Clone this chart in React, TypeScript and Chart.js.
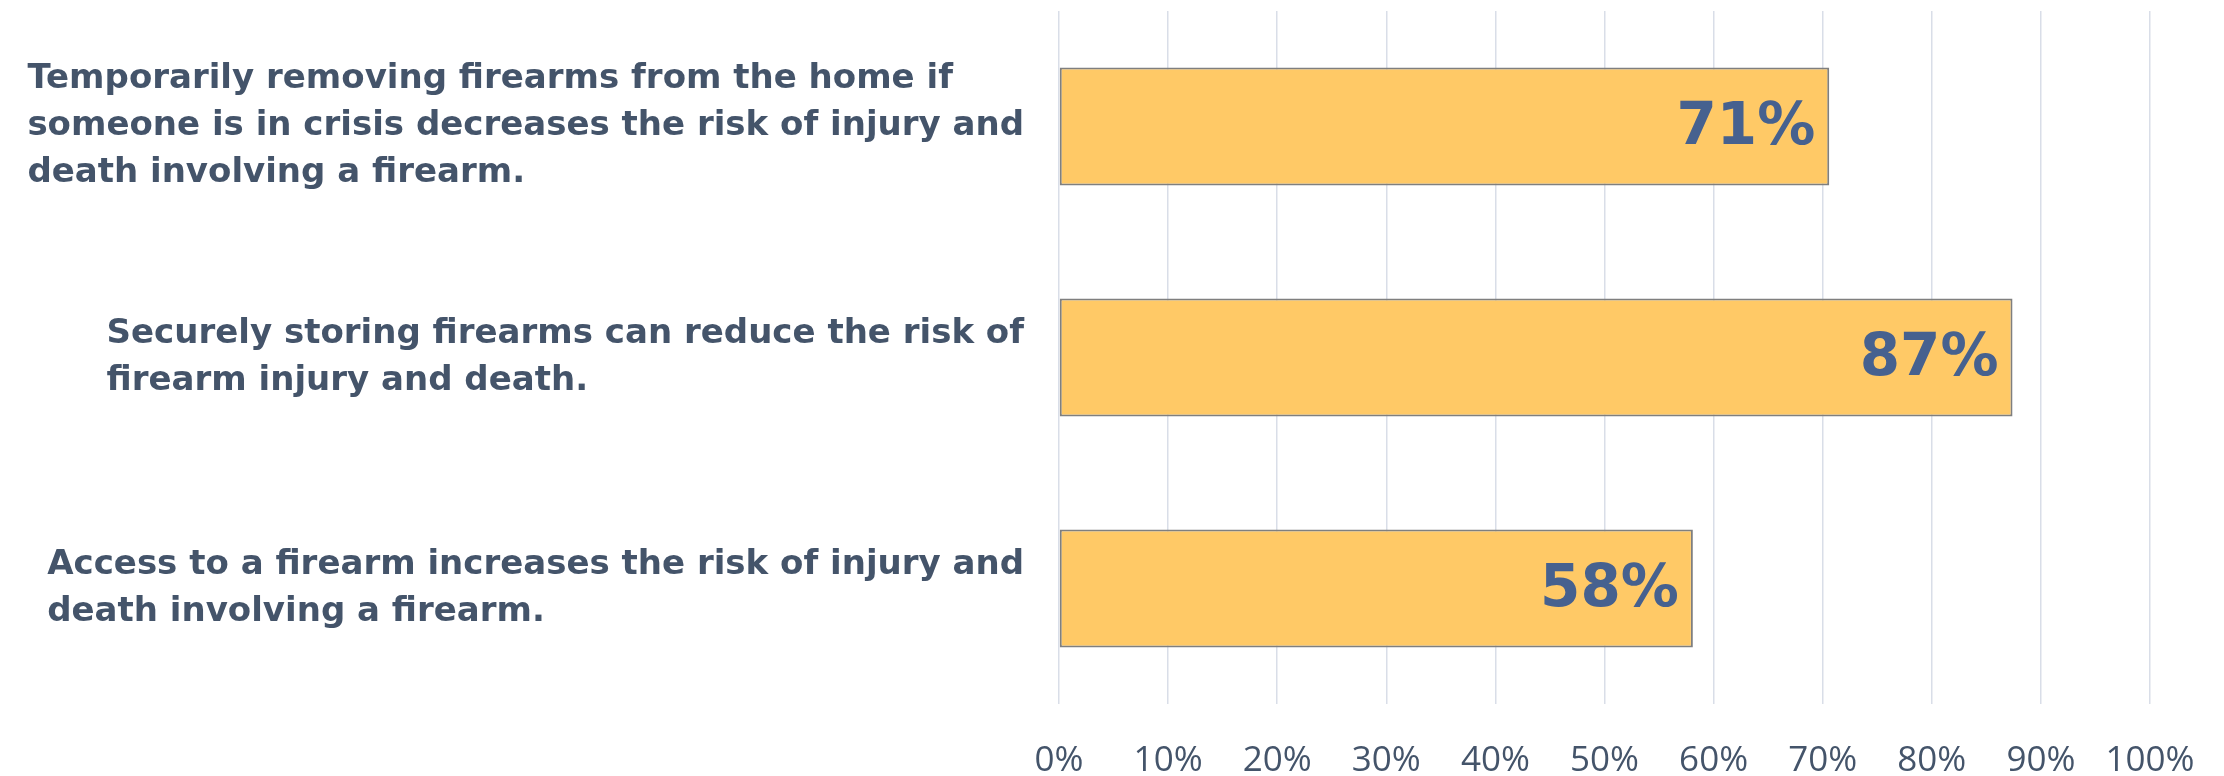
import React, { useEffect, useRef } from "react";
import { Chart, registerables } from "chart.js";

Chart.register(...registerables);

const categories: string[][] = [
  ["Temporarily removing firearms from the home if", "someone is in crisis decreases the risk of injury and", "death involving a firearm."],
  ["Securely storing firearms can reduce the risk of", "firearm injury and death."],
  ["Access to a firearm increases the risk of injury and", "death involving a firearm."],
];
const values: number[] = [70.6, 87.4, 58.1];
const valueLabels: string[] = ["71%", "87%", "58%"];
const tickMax = 100;
const tickStep = 10;

const LABEL_FONT = "bold 34px 'DejaVu Sans'";
const LABEL_COLOR = "#44546A";
const VALUE_FONT = "bold 58px 'DejaVu Sans'";
const VALUE_COLOR = "#46618F";

const categoryLabelPlugin = {
  id: "categoryLabels",
  afterDraw(chart: any) {
    const { ctx, chartArea } = chart;
    const yScale = chart.scales.y;
    ctx.save();
    ctx.font = LABEL_FONT;
    ctx.fillStyle = LABEL_COLOR;
    ctx.textAlign = "left";
    ctx.textBaseline = "middle";
    const lineH = 47;
    categories.forEach((lines, i) => {
      const cy = yScale.getPixelForValue(i);
      const maxW = Math.max(...lines.map((l) => ctx.measureText(l).width));
      const x = chartArea.left - 35 - maxW;
      const startY = cy - ((lines.length - 1) * lineH) / 2;
      lines.forEach((l, j) => ctx.fillText(l, x, startY + j * lineH));
    });
    ctx.restore();
  },
};

const valueLabelPlugin = {
  id: "valueLabels",
  afterDatasetsDraw(chart: any) {
    const { ctx } = chart;
    const meta = chart.getDatasetMeta(0);
    ctx.save();
    ctx.font = VALUE_FONT;
    ctx.fillStyle = VALUE_COLOR;
    ctx.textAlign = "right";
    ctx.textBaseline = "middle";
    meta.data.forEach((bar: any, i: number) => {
      ctx.fillText(valueLabels[i], bar.x - 14, bar.y + 2);
    });
    ctx.restore();
  },
};

export default function App() {
  const ref = useRef<HTMLCanvasElement>(null);
  useEffect(() => {
    if (!ref.current) return;
    const chart = new Chart(ref.current, {
      type: "bar",
      data: {
        labels: categories.map((c) => c.join(" ")),
        datasets: [
          {
            data: values,
            backgroundColor: "#FFC966",
            borderColor: "#7F7F7F",
            borderWidth: 2,
            borderSkipped: false,
            barPercentage: 0.51,
            categoryPercentage: 1,
          },
        ],
      },
      options: {
        indexAxis: "y",
        animation: false,
        responsive: false,
        maintainAspectRatio: false,
        layout: { padding: { left: 1059, right: 74, top: 11, bottom: 0 } },
        plugins: { legend: { display: false }, tooltip: { enabled: false } },
        scales: {
          x: {
            min: 0,
            max: tickMax,
            border: { display: false },
            grid: { color: "#D9DEE8", lineWidth: 1.5, drawTicks: false },
            ticks: {
              stepSize: tickStep,
              padding: 36,
              color: "#44546A",
              font: { family: "'Open Sans'", size: 35, lineHeight: 1.2 },
              callback: (v: any) => `${v}%`,
            },
            afterFit: (scale: any) => {
              scale.height = 72;
              scale.paddingLeft = 0;
              scale.paddingRight = 0;
            },
          },
          y: {
            display: false,
          },
        },
      },
      plugins: [categoryLabelPlugin, valueLabelPlugin],
    });
    return () => chart.destroy();
  }, []);
  return (
    <div style={{ position: "fixed", left: 0, top: 0, width: 2224, height: 776, background: "#fff" }}>
      <canvas ref={ref} width={2224} height={776} style={{ width: 2224, height: 776 }} />
    </div>
  );
}
